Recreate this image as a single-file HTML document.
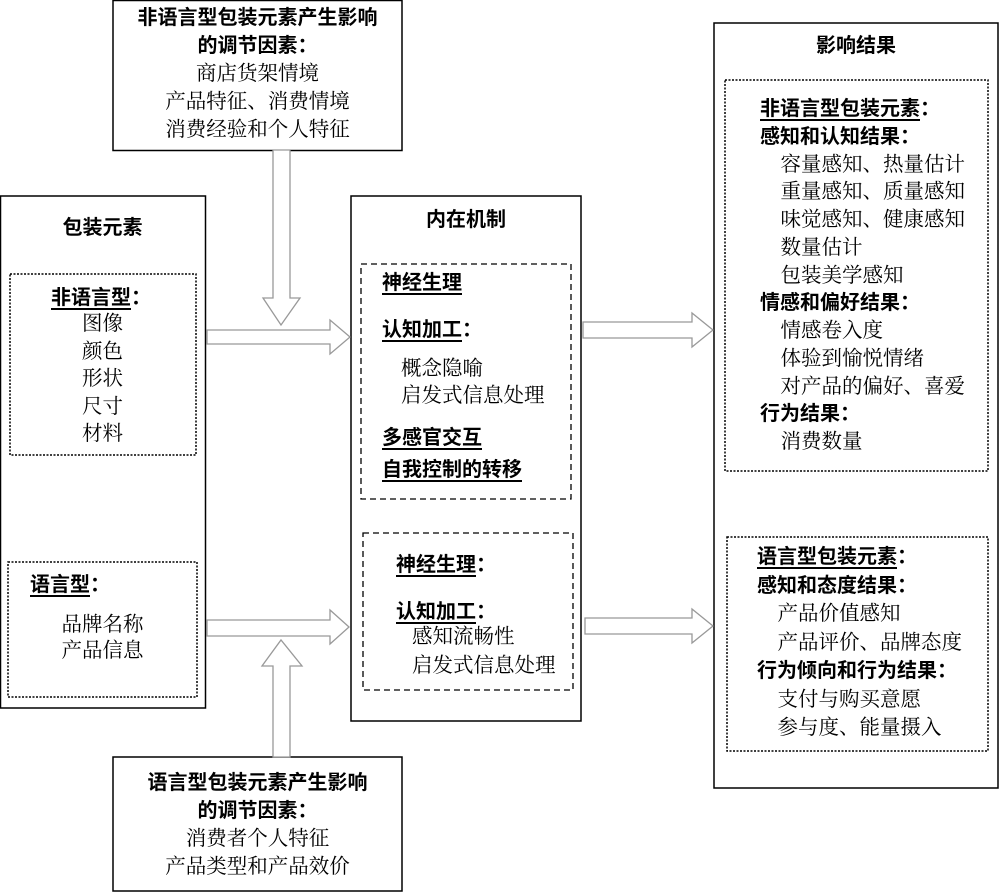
<!DOCTYPE html>
<html><head><meta charset="utf-8"><style>
body{margin:0;width:1000px;height:893px;background:#fff;position:relative;overflow:hidden;font-family:"Liberation Serif","Noto Serif CJK SC",serif;font-size:20.5px;color:#000}
.t{position:absolute;line-height:28px;white-space:nowrap}
.b{font-family:"Liberation Sans","Noto Sans CJK SC",sans-serif;font-weight:bold;font-size:20px}
.u{text-decoration:underline;text-underline-offset:4px;text-decoration-thickness:2px}
.c{text-align:center}
svg{position:absolute;left:0;top:0}
</style></head><body>
<svg width="1000" height="893">
<g fill="none" stroke="#000" stroke-width="1.5">
<rect x="113" y="0.5" width="289" height="150"/>
<rect x="0.5" y="196" width="205" height="512"/>
<rect x="351" y="196" width="230" height="525"/>
<rect x="714" y="23" width="284" height="765"/>
<rect x="113" y="757" width="289" height="134"/>
</g>
<g fill="none" stroke="#000" stroke-width="1.5" stroke-dasharray="2,1.5">
<rect x="10" y="274" width="186" height="181"/>
<rect x="8" y="562" width="189" height="135"/>
<rect x="725" y="80" width="263" height="391"/>
<rect x="727" y="537" width="261" height="214"/>
</g>
<g fill="none" stroke="#000" stroke-width="1.3" stroke-dasharray="6,4">
<rect x="361" y="264" width="210" height="235"/>
<rect x="363" y="533" width="210" height="157"/>
</g>
<g fill="#fff" stroke="#999" stroke-width="1.3">
<polygon points="273,150 290,150 290,298 300,298 281,325 263,298 273,298"/>
<polygon points="207,330 330,330 330,320 350,337 330,354 330,344 207,344"/>
<polygon points="583,322 692,322 692,313 713,330 692,347 692,338 583,338"/>
<polygon points="585,618 692,618 692,609 713,626 692,643 692,634 585,634"/>
<polygon points="207,620 330,620 330,610 349,627 330,644 330,636 207,636"/>
<polygon points="273,757 290,757 290,666 302,666 281,640 262,666 273,666"/>
</g>
</svg>
<div class="t c" style="left:113px;width:289px;top:4px"><span class="b">非语言型包装元素产生影响<br>的调节因素：</span><br>商店货架情境<br>产品特征、消费情境<br>消费经验和个人特征</div>
<div class="t c" style="left:113px;width:289px;top:769px"><span class="b">语言型包装元素产生影响<br>的调节因素：</span><br>消费者个人特征<br>产品类型和产品效价</div>
<div class="t c b" style="left:0;width:205px;top:214px">包装元素</div>
<div class="t b" style="left:51px;top:284px"><span class="u">非语言型</span>：</div>
<div class="t c" style="left:0;width:205px;top:311px;line-height:27.5px">图像<br>颜色<br>形状<br>尺寸<br>材料</div>
<div class="t b" style="left:30px;top:571px"><span class="u">语言型</span>：</div>
<div class="t c" style="left:0;width:205px;top:612px;line-height:26px">品牌名称<br>产品信息</div>
<div class="t c b" style="left:351px;width:230px;top:206px">内在机制</div>
<div class="t b u" style="left:382px;top:269px">神经生理</div>
<div class="t b" style="left:382px;top:316px"><span class="u">认知加工</span>：</div>
<div class="t" style="left:401px;top:356px;line-height:27px">概念隐喻<br>启发式信息处理</div>
<div class="t b u" style="left:382px;top:424px">多感官交互</div>
<div class="t b u" style="left:382px;top:456px">自我控制的转移</div>
<div class="t b" style="left:396px;top:551px"><span class="u">神经生理</span>：</div>
<div class="t b" style="left:396px;top:598px"><span class="u">认知加工</span>：</div>
<div class="t" style="left:412px;top:623px;line-height:29px">感知流畅性<br>启发式信息处理</div>
<div class="t c b" style="left:714px;width:284px;top:32px">影响结果</div>
<div class="t" style="left:760px;top:96px;line-height:27.75px"><span class="b"><span class="u">非语言型包装元素</span>：</span><br><span class="b">感知和认知结果：</span><br>　容量感知、热量估计<br>　重量感知、质量感知<br>　味觉感知、健康感知<br>　数量估计<br>　包装美学感知<br><span class="b">情感和偏好结果：</span><br>　情感卷入度<br>　体验到愉悦情绪<br>　对产品的偏好、喜爱<br><span class="b">行为结果：</span><br>　消费数量</div>
<div class="t" style="left:757px;top:543px;line-height:28.5px"><span class="b"><span class="u">语言型包装元素</span>：</span><br><span class="b">感知和态度结果：</span><br>　产品价值感知<br>　产品评价、品牌态度<br><span class="b">行为倾向和行为结果：</span><br>　支付与购买意愿<br>　参与度、能量摄入</div>
</body></html>
